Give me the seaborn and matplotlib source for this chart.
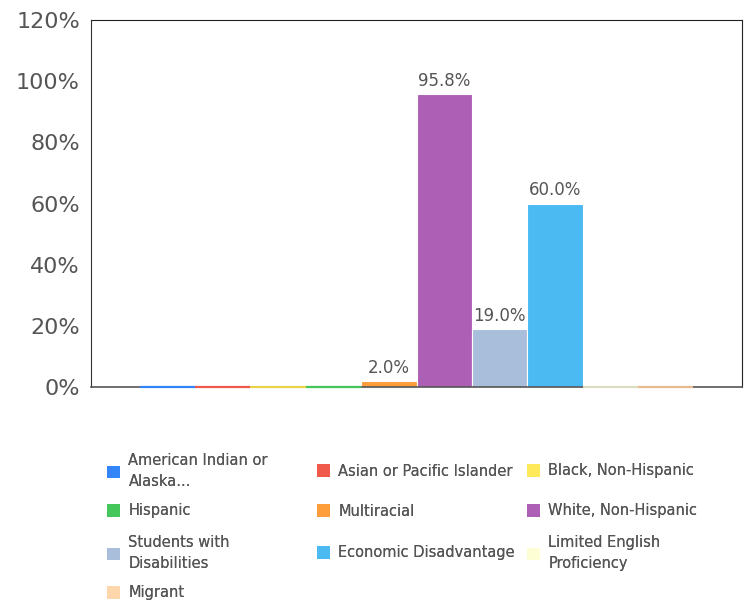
import matplotlib
matplotlib.use("Agg")
import matplotlib.pyplot as plt
import seaborn as sns
import pandas as pd
from matplotlib.patches import Patch

categories = [
    "American Indian or Alaska...",
    "Asian or Pacific Islander",
    "Black, Non-Hispanic",
    "Hispanic",
    "Multiracial",
    "White, Non-Hispanic",
    "Students with Disabilities",
    "Economic Disadvantage",
    "Limited English Proficiency",
    "Migrant",
]
legend_labels = [
    "American Indian or\nAlaska...",
    "Asian or Pacific Islander",
    "Black, Non-Hispanic",
    "Hispanic",
    "Multiracial",
    "White, Non-Hispanic",
    "Students with\nDisabilities",
    "Economic Disadvantage",
    "Limited English\nProficiency",
    "Migrant",
]
values = [0.0, 0.0, 0.0, 0.0, 2.0, 95.8, 19.0, 60.0, 0.0, 0.0]
colors = ["#3384f6", "#f05a4b", "#fde95a", "#45c65a", "#fd9e3a",
          "#ad5fb5", "#a8bedb", "#4bbaf3", "#fefed5", "#fdd6ac"]
zero_line_colors = ["#3384f6", "#f05a4b", "#e8d24a", "#45c65a", "#fd9e3a",
                    "#ad5fb5", "#a8bedb", "#4bbaf3", "#dcdcc0", "#e8b890"]
yticks = [0, 20, 40, 60, 80, 100, 120]

sns.set_theme(style="white")
plt.rcParams["font.family"] = ["DejaVu Sans"]

df = pd.DataFrame({"group": ["all"] * len(categories),
                   "category": categories,
                   "value": values})

fig = plt.figure(figsize=(7.49, 6.03), dpi=100)
ax = fig.add_axes([91 / 749, 1 - 387 / 603, 651 / 749, 367 / 603])

sns.barplot(data=df, x="group", y="value", hue="category",
            hue_order=categories, palette=colors, saturation=1,
            width=0.85, dodge=True, legend=False, ax=ax)

for cont, v, lc in zip(ax.containers, values, zero_line_colors):
    for p in cont.patches:
        if v == 0:
            p.set_edgecolor(lc)
            p.set_linewidth(1.6)
            p.set_zorder(4)
            p.set_clip_on(False)
        else:
            p.set_edgecolor("white")
            p.set_linewidth(0.8)
    if v > 0:
        ax.bar_label(cont, labels=[f"{v:.1f}%"], padding=3,
                     fontsize=12, color="#555555")

ax.set_ylim(0, 120)
ax.set_xlim(-0.5, 0.5)
ax.set_yticks(yticks)
ax.set_yticklabels([f"{t}%" for t in yticks], fontsize=16, color="#555555")
ax.tick_params(axis="y", length=0, pad=8)
ax.set_xticks([])
ax.set_xlabel("")
ax.set_ylabel("")
for s in ["top", "right"]:
    ax.spines[s].set_color("#222222")
    ax.spines[s].set_linewidth(0.8)
ax.spines["left"].set_color("#333333")
ax.spines["left"].set_linewidth(0.8)
ax.spines["bottom"].set_color("#555555")
ax.spines["bottom"].set_linewidth(1.2)

# legend laid out in a 3-column grid
col_x = [100 / 749, 310 / 749, 520 / 749]
row_y = [471, 511, 553, 593]
for i, (lab, c) in enumerate(zip(legend_labels, colors)):
    r, k = divmod(i, 3)
    leg = fig.legend(handles=[Patch(facecolor=c, edgecolor="none")],
                     labels=[lab], loc="center left",
                     bbox_to_anchor=(col_x[k], 1 - row_y[r] / 603),
                     frameon=False, fontsize=10.5, handlelength=0.9,
                     handleheight=0.9, handletextpad=0.55,
                     borderpad=0, labelcolor="#555555")
    for t in leg.get_texts():
        t.set_linespacing(1.45)
    fig.add_artist(leg)

fig.savefig("out.png", dpi=100)
